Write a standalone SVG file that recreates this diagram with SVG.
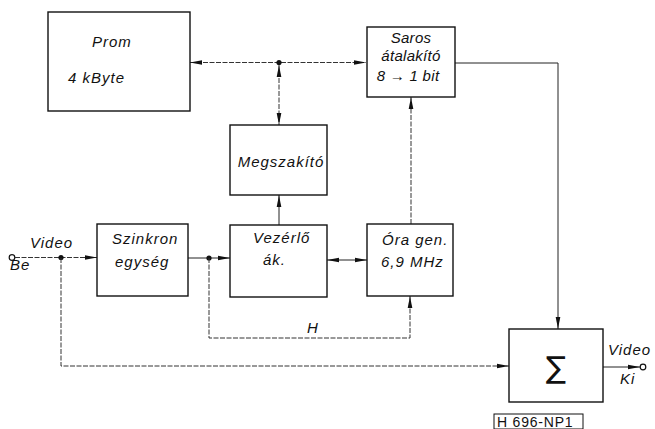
<svg xmlns="http://www.w3.org/2000/svg" width="655" height="429" viewBox="0 0 655 429">
<style>
.box{fill:none;stroke:#111;stroke-width:1.4}
.ln{fill:none;stroke:#222;stroke-width:1}
.dl{fill:none;stroke:#333;stroke-width:1;stroke-dasharray:5 1.5}
.t{font-family:"Liberation Sans",Arial,sans-serif;font-style:italic;font-size:15px;letter-spacing:1px;fill:#111}
.tc{text-anchor:middle}
.ts{letter-spacing:0.3px}
</style>
<defs>
<marker id="ah" viewBox="0 0 12 6" refX="12" refY="3" markerWidth="12" markerHeight="6" markerUnits="userSpaceOnUse" orient="auto-start-reverse">
<path d="M0,0.7 L12,3 L0,5.3 Z" fill="#111"/>
</marker>
</defs>
<rect width="655" height="429" fill="#fff"/>

<g id="connectors">
<line class="dl" x1="190" y1="62.5" x2="366" y2="62.5" marker-start="url(#ah)" marker-end="url(#ah)"/>
<circle cx="279" cy="62.5" r="2.6" fill="#111"/>
<line class="dl" x1="279" y1="65" x2="279" y2="125" marker-start="url(#ah)" marker-end="url(#ah)"/>
<line class="ln" x1="279" y1="225" x2="279" y2="195" marker-end="url(#ah)"/>
<line class="dl" x1="411" y1="224" x2="411" y2="97" marker-end="url(#ah)"/>
<polyline class="ln" points="455,63 558,63 558,329" marker-end="url(#ah)"/>
<circle cx="12" cy="257.5" r="2.8" fill="#fff" stroke="#111" stroke-width="1.2"/>
<line class="dl" x1="15" y1="257.5" x2="97" y2="257.5" marker-end="url(#ah)"/>
<circle cx="61" cy="257.5" r="2.6" fill="#111"/>
<line class="ln" x1="188" y1="258" x2="230" y2="258" marker-end="url(#ah)"/>
<circle cx="209" cy="258" r="2.6" fill="#111"/>
<line class="ln" x1="327" y1="260" x2="367" y2="260" marker-start="url(#ah)" marker-end="url(#ah)"/>
<polyline class="dl" points="209,258 209,338 410,338 410,296" marker-end="url(#ah)"/>
<polyline class="dl" points="61,258 61,366 509,366" marker-end="url(#ah)"/>
<line class="ln" x1="603" y1="367" x2="640" y2="367" marker-end="url(#ah)"/>
<circle cx="643" cy="367" r="2.8" fill="#fff" stroke="#111" stroke-width="1.2"/>
</g>

<g id="prom">
<rect class="box" x="48" y="12" width="142" height="99"/>
<text class="t" x="92" y="47">Prom</text>
<text class="t" x="68" y="83">4 kByte</text>
</g>

<g id="saros">
<rect class="box" x="367" y="27" width="88" height="70"/>
<text class="t tc ts" x="411" y="43">Saros</text>
<text class="t tc ts" x="411" y="61">átalakító</text>
<text class="t tc ts" x="408" y="81">8 → 1 bit</text>
</g>

<g id="megszakito">
<rect class="box" x="230" y="125" width="97" height="70"/>
<text class="t tc" x="281" y="167">Megszakító</text>
</g>

<g id="szinkron">
<rect class="box" x="97" y="224" width="91" height="72"/>
<text class="t" x="112" y="244">Szinkron</text>
<text class="t" x="115" y="267">egység</text>
</g>

<g id="vezerlo">
<rect class="box" x="230" y="225" width="97" height="72"/>
<text class="t" x="253" y="243">Vezérlő</text>
<text class="t" x="263" y="265">ák.</text>
</g>

<g id="ora">
<rect class="box" x="367" y="224" width="86" height="72"/>
<text class="t" x="382" y="245">Óra gen.</text>
<text class="t" x="381" y="267">6,9 MHz</text>
</g>

<g id="sum">
<rect class="box" x="509" y="329" width="94" height="73"/>
<text x="556" y="378" text-anchor="middle" font-family="DejaVu Sans,sans-serif" font-size="30" fill="#111">∑</text>
</g>

<g id="labels">
<text class="t" x="30" y="248">Video</text>
<text class="t" x="10" y="270">Be</text>
<text class="t" x="307" y="333">H</text>
<text class="t" x="608" y="355">Video</text>
<text class="t" x="620" y="384">Ki</text>
<rect x="494" y="414" width="89" height="15" fill="none" stroke="#111" stroke-width="1"/>
<text x="497" y="427" font-family="Liberation Sans,Arial,sans-serif" font-size="14" letter-spacing="0.8" fill="#111">H 696-NP1</text>
</g>
</svg>
